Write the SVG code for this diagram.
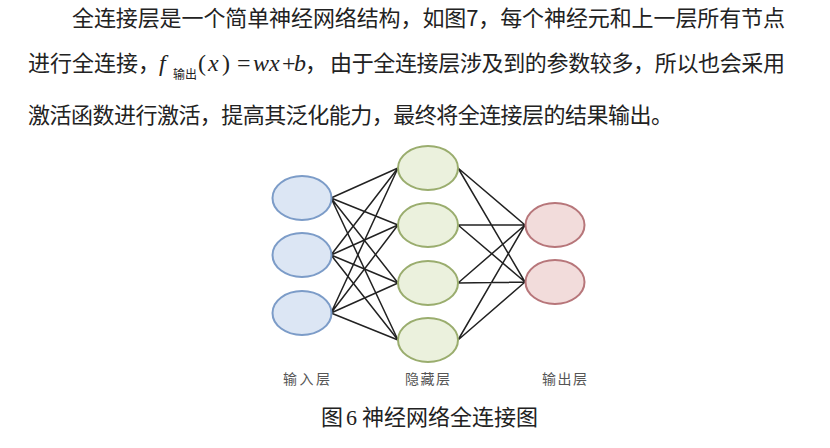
<svg xmlns="http://www.w3.org/2000/svg" width="830" height="448" viewBox="0 0 830 448">
<style>
.body{font-family:"Noto Sans CJK SC","Noto Sans",sans-serif;font-size:22px;fill:#222}
.math{font-family:"Liberation Serif",serif;font-size:24px;fill:#222}
.sub{font-family:"Noto Sans CJK SC",sans-serif;font-size:12px;fill:#222}
.lbl{font-family:"Noto Sans CJK SC",sans-serif;font-size:14px;fill:#555}
.cap{font-family:"Noto Sans CJK SC","Liberation Serif",sans-serif;font-size:22px;fill:#222}
.in{fill:#dce6f4;stroke:#7c9cc8;stroke-width:2}
.hid{fill:#ebf1dd;stroke:#9aad6e;stroke-width:2}
.out{fill:#f2dcdb;stroke:#b7767a;stroke-width:2}
.e{stroke:#222;stroke-width:1.5;fill:none}
</style>
<rect width="830" height="448" fill="#fff"/>
<text class="body" x="72" y="26" textLength="713" lengthAdjust="spacing">全连接层是一个简单神经网络结构，如图7，每个神经元和上一层所有节点</text>
<text class="body" x="28" y="71" textLength="132" lengthAdjust="spacing">进行全连接，</text>
<text class="math" x="159" y="71" font-style="italic">f</text>
<text class="sub" x="173" y="79">输出</text>
<text class="math" y="71"><tspan x="198">(</tspan><tspan x="208" font-style="italic">x</tspan><tspan x="222">)</tspan><tspan x="237">=</tspan><tspan x="253" font-style="italic">w</tspan><tspan x="269" font-style="italic">x</tspan><tspan x="282">+</tspan><tspan x="294" font-style="italic">b</tspan></text>
<text class="body" x="305" y="71">，</text>
<text class="body" x="330" y="71" textLength="455" lengthAdjust="spacing">由于全连接层涉及到的参数较多，所以也会采用</text>
<text class="body" x="28" y="123" textLength="645" lengthAdjust="spacing">激活函数进行激活，提高其泛化能力，最终将全连接层的结果输出。</text>
<g id="connectors">
<path class="e" d="M331 198L398 168M331 198L398 225M331 198L398 283M331 198L398 340"/>
<path class="e" d="M331 255L398 168M331 255L398 225M331 255L398 283M331 255L398 340"/>
<path class="e" d="M331 313L398 168M331 313L398 225M331 313L398 283M331 313L398 340"/>
<path class="e" d="M458 168L525 225M458 168L525 282M458 225L525 225M458 225L525 282M458 283L525 225M458 283L525 282M458 340L525 225M458 340L525 282"/>
</g>
<g id="in1"><ellipse class="in" cx="302" cy="198" rx="29.5" ry="22"/></g>
<g id="in2"><ellipse class="in" cx="302" cy="255" rx="29.5" ry="22"/></g>
<g id="in3"><ellipse class="in" cx="302" cy="313" rx="29.5" ry="22"/></g>
<g id="h1"><ellipse class="hid" cx="428" cy="168" rx="30" ry="22"/></g>
<g id="h2"><ellipse class="hid" cx="428" cy="225" rx="30" ry="22"/></g>
<g id="h3"><ellipse class="hid" cx="428" cy="283" rx="30" ry="22"/></g>
<g id="h4"><ellipse class="hid" cx="428" cy="340" rx="30" ry="22"/></g>
<g id="o1"><ellipse class="out" cx="555" cy="225" rx="29.5" ry="22"/></g>
<g id="o2"><ellipse class="out" cx="555" cy="282" rx="29.5" ry="22"/></g>
<text class="lbl" x="283" y="384" textLength="47" lengthAdjust="spacing">输入层</text>
<text class="lbl" x="405" y="384" textLength="45" lengthAdjust="spacing">隐藏层</text>
<text class="lbl" x="542" y="384" textLength="45" lengthAdjust="spacing">输出层</text>
<text class="cap" y="425"><tspan x="321">图</tspan><tspan x="346" font-family="Liberation Serif">6</tspan><tspan x="362">神经网络全连接图</tspan></text>
</svg>
